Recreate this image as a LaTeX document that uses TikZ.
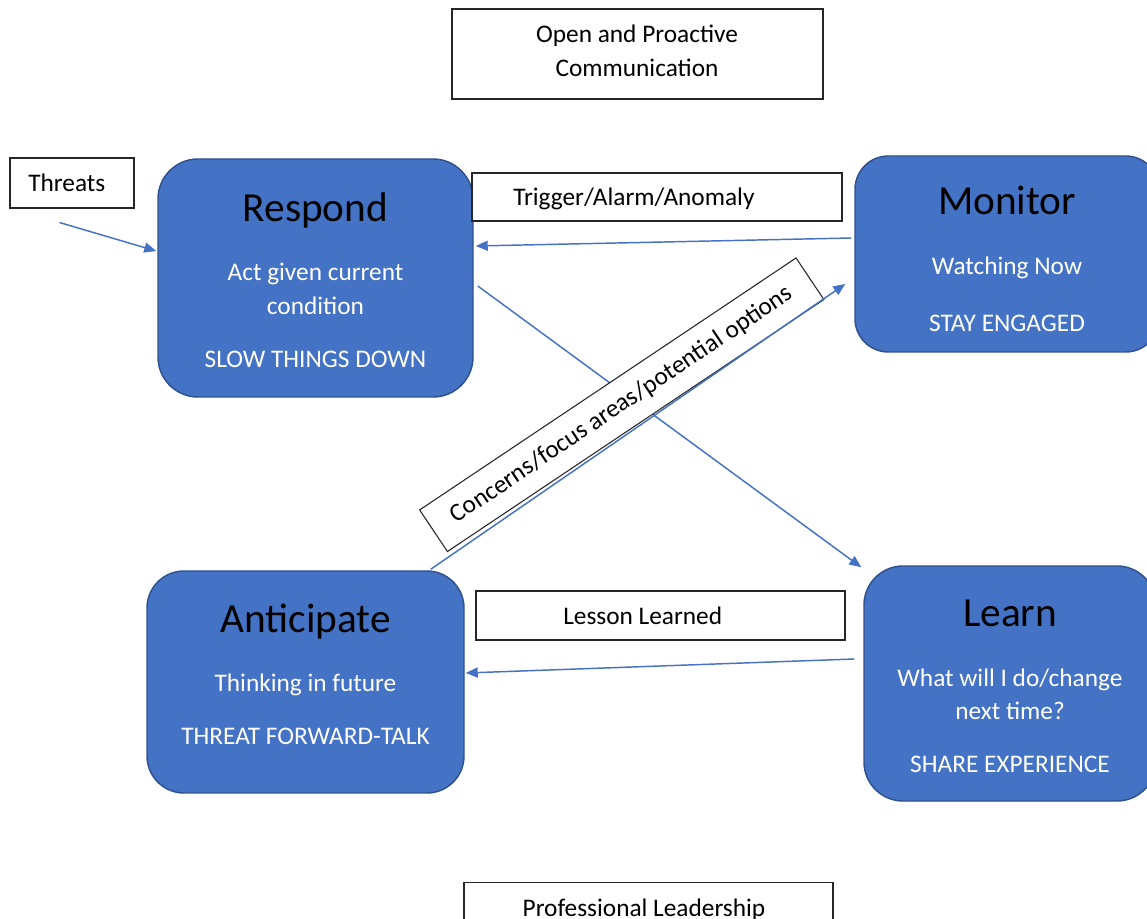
\documentclass[tikz,border=0pt]{standalone}
\usepackage{fontspec}
\setmainfont{Carlito}
\usetikzlibrary{arrows.meta,calc}
\definecolor{boxblue}{HTML}{4472C4}
\definecolor{boxedge}{HTML}{2F528F}
\begin{document}
\begin{tikzpicture}[x=0.75pt,y=-0.75pt,
  stage/.style={draw=boxedge, line width=1.1pt, fill=boxblue, rectangle, inner sep=0},
  lbox/.style={draw=black!85, line width=0.8pt, fill=white, rectangle, inner sep=0},
  ttl/.style={font=\fontsize{31}{37}\selectfont, text=black, anchor=base, inner sep=0},
  bodytxt/.style={font=\fontsize{19}{25.5}\selectfont, text=white, anchor=base, inner sep=0},
  ltext/.style={font=\fontsize{19}{25.5}\selectfont, text=black, anchor=base west, inner sep=0},
  ctext/.style={font=\fontsize{19}{25.5}\selectfont, text=black, anchor=base, inner sep=0},
  flow/.style={draw=boxblue, line width=1.1pt, -{Triangle[length=9pt,width=7.5pt]}}]
\useasboundingbox (0,0) rectangle (1147,919);
\clip (0,0) rectangle (1147,919);

% top label
\node[lbox, minimum width=278.25pt, minimum height=67.5pt] (open) at (637.5,54) {};
\node[ctext] (open1) at (637,43) {Open and Proactive};
\node[ctext] (open2) at (637,77) {Communication};

% threats
\node[lbox, minimum width=93pt, minimum height=37.5pt] (threats) at (72,183) {};
\node[ltext] (threatst) at (28,192) {Threats};

% Respond
\node[stage, rounded corners=30pt, minimum width=236.25pt, minimum height=178.5pt] (respond) at (315.5,278) {};
\node[ttl] (respondt) at (315.5,222) {Respond};
\node[bodytxt] (respond1) at (315.5,281) {Act given current};
\node[bodytxt] (respond2) at (315.5,315) {condition};
\node[bodytxt] (respond3) at (315.5,368) {SLOW THINGS DOWN};

% Monitor
\node[stage, rounded corners=25pt, minimum width=228pt, minimum height=147pt] (monitor) at (1007,254) {};
\node[ttl] (monitort) at (1007,215) {Monitor};
\node[bodytxt] (monitor1) at (1007,275) {Watching Now};
\node[bodytxt] (monitor2) at (1007,332) {STAY ENGAGED};

% Anticipate
\node[stage, rounded corners=27.75pt, minimum width=237.75pt, minimum height=166.5pt] (anticipate) at (305.5,682) {};
\node[ttl] (anticipatet) at (305.5,633) {Anticipate};
\node[bodytxt] (anticipate1) at (305.5,692) {Thinking in future};
\node[bodytxt] (anticipate2) at (305.5,745) {THREAT FORWARD-TALK};

% Learn
\node[stage, rounded corners=29.25pt, minimum width=219pt, minimum height=176.25pt] (learn) at (1010,683.5) {};
\node[ttl] (learnt) at (1010,627) {Learn};
\node[bodytxt] (learn1) at (1010,687) {What will I do/change};
\node[bodytxt] (learn2) at (1010,720) {next time?};
\node[bodytxt] (learn3) at (1010,773) {SHARE EXPERIENCE};

% trigger label
\node[lbox, minimum width=277.5pt, minimum height=36pt] (trigger) at (657,197) {};
\node[ltext] (triggert) at (513,206) {Trigger/Alarm/Anomaly};

% lesson label
\node[lbox, minimum width=276.75pt, minimum height=36.75pt] (lesson) at (660.5,615.5) {};
\node[ltext] (lessont) at (563,625) {Lesson Learned};

% professional leadership
\node[lbox, minimum width=276.75pt, minimum height=67.5pt, anchor=north] (prof) at (648.5,882) {};
\node[ctext] (proft) at (644,916) {Professional Leadership};

% arrows
\coordinate (threatsout) at ($(threats.south west)+(50,14)$);
\draw[flow] (threatsout) -- ($(respond.west)+(-1,-27)$);
\draw[flow] ($(monitor.west)+(-3,-16)$) -- ($(respond.east)+(2,-32)$);
\draw[flow] ($(respond.east)+(4,8)$) -- ($(learn.north west)+(-2,2)$);
\draw[flow] ($(learn.west)+(-9,-24.5)$) -- ($(anticipate.east)+(1,-9)$);

% rotated label
\node[lbox, rotate=33.8, minimum width=339.75pt, minimum height=37.5pt,
  font=\fontsize{19}{25.5}\selectfont] (concerns) at (621.75,404.75) {Concerns/focus areas/potential options};

\draw[flow] ($(anticipate.north east)+(-34,-1)$) -- ($(monitor.west)+(-9,30)$);
\end{tikzpicture}
\end{document}
